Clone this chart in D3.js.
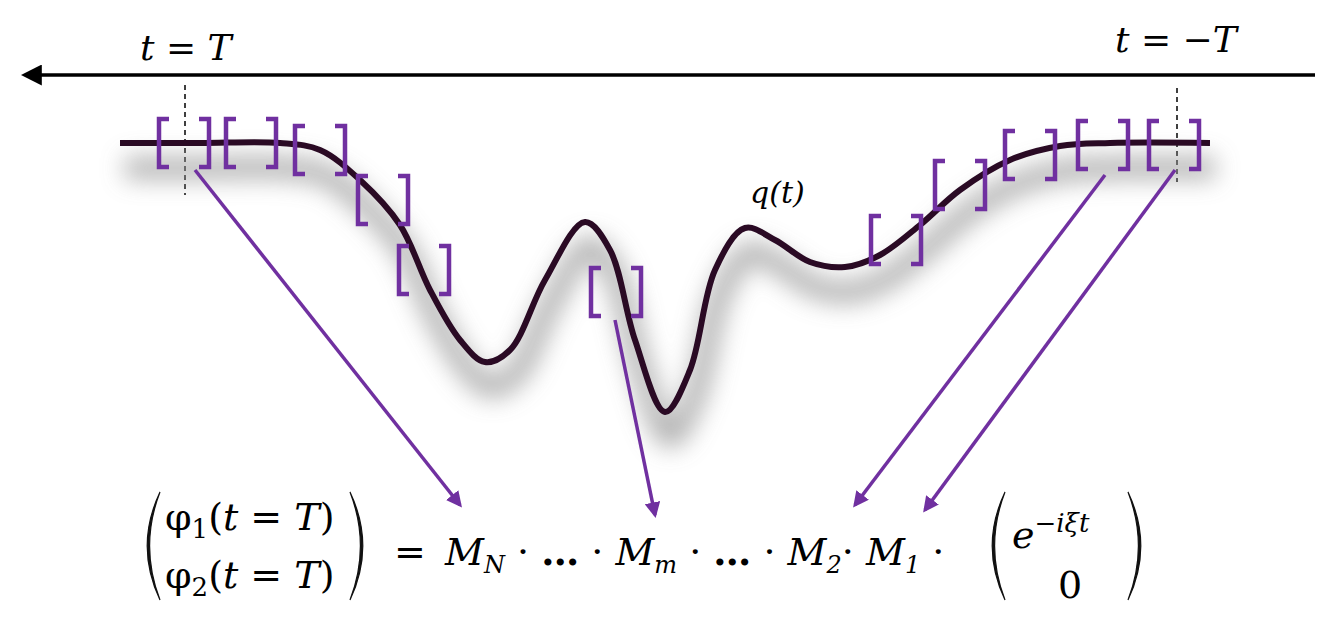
<!DOCTYPE html>
<html><head><meta charset="utf-8">
<script src="https://cdn.jsdelivr.net/npm/d3@7"></script>
<style>body{margin:0;background:#fff}svg text{font-family:"DejaVu Serif",serif}</style>
</head><body>
<svg id="c" width="1332" height="624"></svg>
<script>
// curve samples of q(t), t in arbitrary units (0..1090), q downward depth
const curveT = [0,80,160,200,240,280,310,340,365,390,425,465,490,515,545,570,595,625,655,690,725,760,800,840,890,940,990,1090];
const curveQ = [0,0,0,7,37,82,147,197,219,207,137,79,107,197,269,227,127,85,97,119,124,112,82,47,17,3,0,0];
// bracket pairs: centre t and centre depth
const bracketT = [64,131,200,263,304,496,776,840,910,983,1054];
const bracketQ = [0,0,7,57,127,149,97,42,12,2,2];
// arrows: from t/q to formula target
const arrowFrom = [[75,27],[495,177],[985,32],[1055,27]];
const arrowTo = [[460,505],[655,515],[855,505],[925,510]];

const purple = "#7030a0";
const svg = d3.select("#c");
const x = d3.scaleLinear().domain([0,1090]).range([120,1210]);
const y = d3.scaleLinear().domain([0,269]).range([143,412]);

const defs = svg.append("defs");
defs.append("filter").attr("id","blur").attr("x","-10%").attr("y","-40%").attr("width","120%").attr("height","180%")
  .append("feGaussianBlur").attr("stdDeviation",12);
defs.append("marker").attr("id","ah").attr("viewBox","0 0 10 10").attr("refX",8).attr("refY",5)
  .attr("markerWidth",4.5).attr("markerHeight",4.5).attr("orient","auto")
  .append("path").attr("d","M0,0L10,5L0,10z").attr("fill",purple);
defs.append("marker").attr("id","ak").attr("viewBox","0 0 10 10").attr("refX",8).attr("refY",5)
  .attr("markerWidth",6).attr("markerHeight",6).attr("orient","auto")
  .append("path").attr("d","M0,0L10,5L0,10z").attr("fill","#000");

// time axis
svg.append("line").attr("x1",1315).attr("x2",25).attr("y1",75).attr("y2",75)
  .attr("stroke","#000").attr("stroke-width",3.5).attr("marker-end","url(#ak)");
svg.append("text").attr("x",140).attr("y",60).attr("font-size",36).attr("font-style","italic").text("t = T");
svg.append("text").attr("x",1115).attr("y",52).attr("font-size",36).attr("font-style","italic").text("t = −T");
[[185,85,195],[1177,88,182]].forEach(d=>svg.append("line").attr("x1",d[0]).attr("x2",d[0]).attr("y1",d[1]).attr("y2",d[2])
  .attr("stroke","#000").attr("stroke-width",1.5).attr("stroke-dasharray","5,4"));

const pts = curveT.map((t,i)=>[x(t),y(curveQ[i])]);
const line = d3.line().curve(d3.curveCatmullRom);
svg.append("path").attr("d",line(pts.map(p=>[p[0]+5,p[1]+25]))).attr("fill","none")
  .attr("stroke","#999").attr("stroke-width",22).attr("filter","url(#blur)").attr("opacity",0.75);
svg.append("path").attr("d",line(pts)).attr("fill","none").attr("stroke","#2a0a24").attr("stroke-width",6);

svg.append("text").attr("x",750).attr("y",203).attr("font-size",30).attr("font-style","italic").text("q(t)");

// brackets
bracketT.forEach((t,i)=>{
  const cx=x(t), cy=y(bracketQ[i]), h=24, w=25, s=10;
  const g=svg.append("g").attr("fill","none").attr("stroke",purple).attr("stroke-width",4.5);
  g.append("path").attr("d",`M${cx-w+s},${cy-h}H${cx-w}V${cy+h}H${cx-w+s}`);
  g.append("path").attr("d",`M${cx+w-s},${cy-h}H${cx+w}V${cy+h}H${cx+w-s}`);
});

// arrows
arrowFrom.forEach((f,i)=>{
  svg.append("line").attr("x1",x(f[0])).attr("y1",y(f[1])).attr("x2",arrowTo[i][0]).attr("y2",arrowTo[i][1])
    .attr("stroke",purple).attr("stroke-width",3.5).attr("marker-end","url(#ah)");
});

// formula parentheses
function paren(px, top, bot, dir){
  const m=(top+bot)/2, b=16*dir;
  svg.append("path").attr("d",`M${px},${top}Q${px-b*1.6},${m} ${px},${bot}Q${px-b*1.3},${m} ${px},${top}Z`)
    .attr("fill","#111").attr("stroke","#111").attr("stroke-width",1.2);
}
paren(160,492,600,1); paren(350,492,600,-1);
paren(1005,492,600,1); paren(1128,492,600,-1);

const F = svg.append("g").attr("font-size",38);
F.append("text").attr("x",165).attr("y",530).html('φ<tspan font-size="26" dy="8">1</tspan><tspan dy="-8">(</tspan><tspan font-style="italic">t</tspan> = <tspan font-style="italic">T</tspan>)');
F.append("text").attr("x",165).attr("y",588).html('φ<tspan font-size="26" dy="8">2</tspan><tspan dy="-8">(</tspan><tspan font-style="italic">t</tspan> = <tspan font-style="italic">T</tspan>)');
F.append("text").attr("x",394).attr("y",565).text("=");
F.append("text").attr("x",445).attr("y",565).attr("font-style","italic")
  .html('M<tspan font-size="24" dy="8">N</tspan><tspan dy="-8" font-style="normal"> · <tspan font-weight="bold">…</tspan> · </tspan>M<tspan font-size="24" dy="8">m</tspan><tspan dy="-8" font-style="normal"> · <tspan font-weight="bold">…</tspan> · </tspan>M<tspan font-size="24" dy="8">2</tspan><tspan dy="-8" font-style="normal">· </tspan>M<tspan font-size="24" dy="8">1</tspan><tspan dy="-8" font-style="normal"> ·</tspan>');
F.append("text").attr("x",1012).attr("y",548).attr("font-style","italic").html('e<tspan font-size="26" dy="-16">−iξt</tspan>');
F.append("text").attr("x",1058).attr("y",598).text("0");
</script>
</body></html>
